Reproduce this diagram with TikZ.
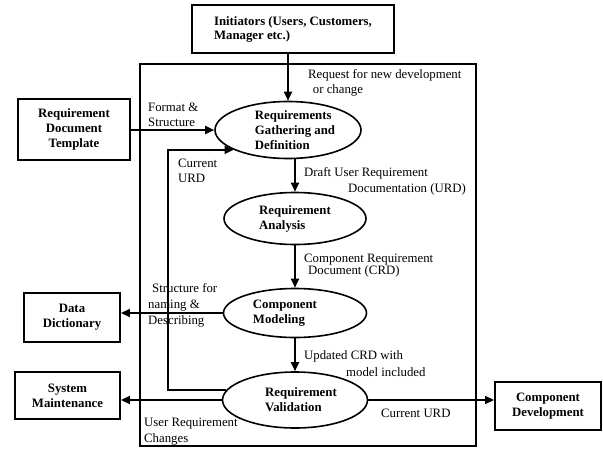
\documentclass[tikz,border=0pt]{standalone}
\usepackage{fontspec}
\setmainfont{Liberation Serif}
\usetikzlibrary{shapes.geometric,arrows.meta}
\begin{document}
\begin{tikzpicture}[x=1pt,y=-1pt,
  every node/.style={font=\fontsize{12.8}{15}\selectfont},
  boxnode/.style={draw,line width=1.9pt,rectangle,inner sep=0pt,align=center,font=\fontsize{12.8}{15}\selectfont\bfseries},
  proc/.style={draw,line width=1.6pt,ellipse,inner sep=0pt,inner ysep=-5pt,align=left,font=\fontsize{12.8}{15}\selectfont\bfseries},
  lbl/.style={inner sep=0pt,anchor=base west,align=left},
  arr/.style={line width=1.8pt,-{Triangle[length=9pt,width=8pt]}},
  plain/.style={line width=1.8pt}]
\useasboundingbox (0,0) rectangle (603,448);
% outer frame
\draw[plain] (140,64) rectangle (476,446);
% boxes
\node[boxnode,align=left,minimum width=202pt,minimum height=48pt,font=\fontsize{12.8}{14}\selectfont\bfseries] (init) at (293,29) {Initiators (Users, Customers,\\Manager etc.)};
\node[boxnode,minimum width=112pt,minimum height=61pt] (tmpl) at (74,129.5) {Requirement\\Document\\Template};
\node[boxnode,minimum width=96pt,minimum height=49pt] (dd) at (72,317.5) {Data\\Dictionary};
\node[boxnode,minimum width=105pt,minimum height=47pt] (sm) at (67.5,395.5) {System\\Maintenance};
\node[boxnode,minimum width=106pt,minimum height=48pt] (cd) at (548,406) {Component\\Development};
% processes
\node[proc,minimum width=146pt,minimum height=57pt] (e1) at (288,130) {\hspace*{14pt}Requirements\\\hspace*{14pt}Gathering and\\\hspace*{14pt}Definition};
\node[proc,minimum width=142pt,minimum height=52pt] (e2) at (295,218.5) {Requirement\\Analysis};
\node[proc,minimum width=143pt,minimum height=49pt] (e3) at (295,313) {Component\hspace*{20pt}\\Modeling};
\node[proc,minimum width=145pt,minimum height=56pt] (e4) at (295,400) {\hspace*{12pt}Requirement\\\hspace*{12pt}Validation};
% connectors
\draw[arr] (init.south -| e1.north) -- (e1.north);
\draw[arr] (tmpl.east |- e1.west) -- (e1.west);
\draw[arr] (e1.south -| e2.north) -- (e2.north);
\draw[arr] (e2.south) -- (e3.north);
\draw[arr] (e3.south) -- (e4.north);
\draw[arr] (e3.west) -- (e3.west -| dd.east);
\draw[arr] (e4.west) -- (e4.west -| sm.east);
\draw[arr] (e4.east) -- (e4.east -| cd.west);
\coordinate (fb) at (168,0);
\draw[arr] (e4.172) -- (e4.172 -| fb) -- (fb |- e1.200) -- (e1.200);
% labels (anchor = baseline of the last line)
\node[lbl] (l1) at (308,93) {Request for new development\\\hspace*{4.7pt}or change};
\node[lbl] (l2) at (148,126) {Format \&\\Structure};
\node[lbl] (l3) at (178,182) {Current\\URD};
\node[lbl,font=\fontsize{12.8}{16}\selectfont] (l4) at (304,192) {Draft User Requirement\\\hspace*{44pt}Documentation (URD)};
\node[lbl,font=\fontsize{12.8}{12.5}\selectfont] (l5) at (304,274.5) {Component Requirement\\\hspace*{4pt}Document (CRD)};
\node[lbl,font=\fontsize{12.8}{16}\selectfont] (l6) at (148,324) {\hspace*{4pt}Structure for\\naming \&\\Describing};
\node[lbl,font=\fontsize{12.8}{17}\selectfont] (l7) at (304,376) {Updated CRD with\\\hspace*{42pt}model included};
\node[lbl] (l8) at (381,417) {Current URD};
\node[lbl,font=\fontsize{12.8}{16}\selectfont] (l9) at (144,442) {User Requirement\\Changes};
\end{tikzpicture}
\end{document}
